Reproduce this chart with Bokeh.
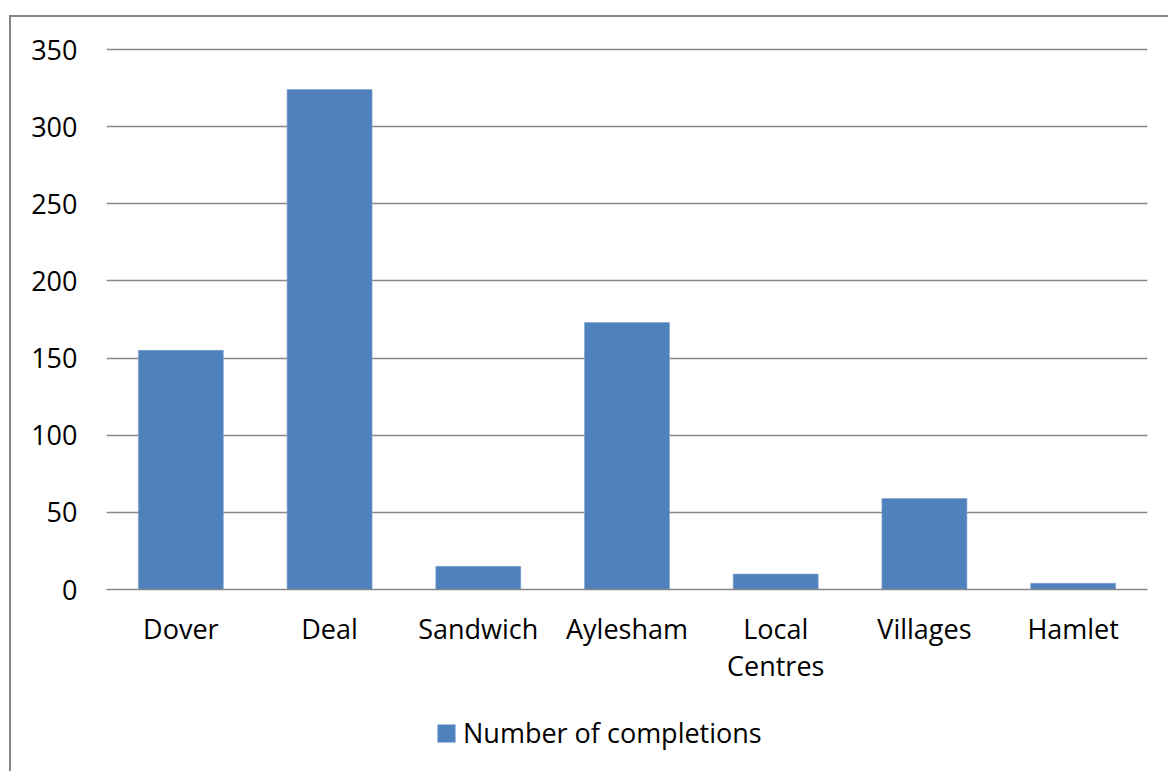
from bokeh.plotting import figure
from bokeh.layouts import column
from bokeh.models import FixedTicker, Legend, LegendItem, ColumnDataSource
from bokeh.embed import file_html
from bokeh.resources import INLINE

# Housing completions by settlement type
categories = ["Dover", "Deal", "Sandwich", "Aylesham", "Local\nCentres", "Villages", "Hamlet"]
completions = [155, 324, 15, 173, 10, 59, 4]
y_ticks = [0, 50, 100, 150, 200, 250, 300, 350]
series_name = "Number of completions"

BAR = "#4F81BD"
BAR_EDGE = "#7FA3D0"
GRID = "#878787"
FONT = "Open Sans"
FONT_SIZE = "27px"

source = ColumnDataSource(data=dict(cat=categories, val=completions))

# main bar chart
p = figure(
    x_range=categories, y_range=(0, 351.3),
    width=1159, height=682,
    output_backend="svg", toolbar_location=None,
    min_border_left=95, min_border_right=23,
    min_border_top=30, min_border_bottom=110,
)
p.outline_line_color = None
p.background_fill_color = "white"
p.border_fill_color = "white"

p.vbar(x="cat", top="val", width=0.5714, source=source,
       fill_color=BAR, line_color=BAR_EDGE, line_width=0.6)

p.yaxis.ticker = FixedTicker(ticks=y_ticks)
p.yaxis.axis_line_color = None
p.yaxis.major_tick_line_color = None
p.yaxis.minor_tick_line_color = None
p.yaxis.major_label_standoff = 23
p.yaxis.major_label_text_font = FONT
p.yaxis.major_label_text_font_size = FONT_SIZE
p.yaxis.major_label_text_color = "black"

p.xaxis.axis_line_color = GRID
p.xaxis.axis_line_width = 1.3
p.xaxis.major_tick_line_color = None
p.xaxis.minor_tick_line_color = None
p.xaxis.major_label_standoff = 14
p.xaxis.major_label_text_font = FONT
p.xaxis.major_label_text_font_size = FONT_SIZE
p.xaxis.major_label_text_color = "black"
p.xaxis.major_label_text_line_height = 1.02

p.xgrid.grid_line_color = None
p.ygrid.grid_line_color = GRID
p.ygrid.grid_line_width = 1.3

# legend strip under the chart; its key bar sits outside the visible range
lg = figure(
    width=1159, height=72, x_range=(0, 1), y_range=(0, 1),
    output_backend="svg", toolbar_location=None,
    x_axis_type=None, y_axis_type=None,
    min_border=0,
)
lg.outline_line_color = None
lg.xgrid.grid_line_color = None
lg.ygrid.grid_line_color = None
key = lg.vbar(x=[5], top=[5], bottom=[4], width=0.5,
              fill_color=BAR, line_color=BAR_EDGE, line_width=0.6)

legend = Legend(
    items=[LegendItem(label=series_name, renderers=[key])],
    location=(329, 20),
    glyph_width=22, glyph_height=22,
    label_text_font=FONT, label_text_font_size=FONT_SIZE,
    label_text_color="black",
    label_standoff=6,
    padding=0, margin=0,
    border_line_color=None, background_fill_alpha=0,
)
lg.add_layout(legend, "center")

page = column(p, lg, spacing=0, margin=(15, 0, 0, 9),
              styles={"border-left": f"2px solid {GRID}", "border-top": f"2px solid {GRID}"})

open("out.html", "w").write(file_html(page, INLINE))
